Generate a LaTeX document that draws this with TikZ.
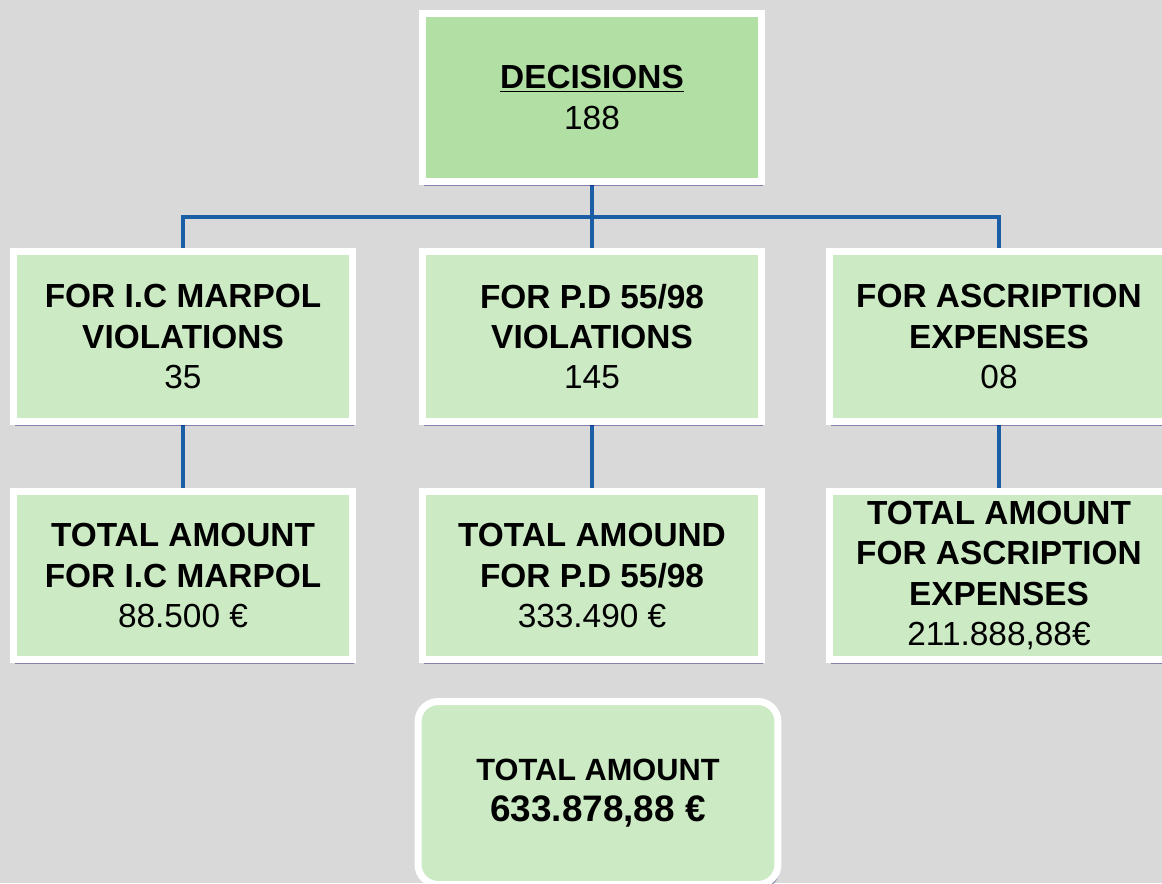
\documentclass[tikz,border=0pt]{standalone}
\usepackage{fontspec}
\setmainfont{Liberation Sans}
\usepackage{xcolor}
\usepackage{tikz}
\usetikzlibrary{shadows,backgrounds}

\definecolor{bggray}{RGB}{217,217,217}
\definecolor{topgreen}{RGB}{178,223,163}
\definecolor{boxgreen}{RGB}{204,234,196}
\definecolor{linkblue}{RGB}{27,94,166}

\begin{document}
\begin{tikzpicture}[x=0.02cm, y=-0.02cm,
  box/.style={rectangle, draw=white, line width=0.14cm, fill=boxgreen,
    minimum width=6.78cm, minimum height=3.4cm, inner sep=0pt, align=center,
    font=\fontsize{19}{23}\selectfont,
    drop shadow={shadow xshift=0.03cm, shadow yshift=-0.1cm, opacity=0.4, fill=black!60!blue}},
  link/.style={draw=linkblue, line width=0.08cm}]
\useasboundingbox (0,0) rectangle (1162,883);

% top
\node[box, fill=topgreen, minimum height=3.36cm] (dec) at (592,97.5) {\textbf{\underline{DECISIONS}}\\188};

% decisions per kind
\node[box] (icm) at (183,336.5) {\textbf{FOR I.C MARPOL}\\\textbf{VIOLATIONS}\\35};
\node[box] (pd) at (592,336.5) {\textbf{FOR P.D 55/98}\\\textbf{VIOLATIONS}\\145};
\node[box] (asc) at (999,336.5) {\textbf{FOR ASCRIPTION}\\\textbf{EXPENSES}\\08};

% amounts per kind
\node[box, minimum height=3.36cm] (ticm) at (183,575.5) {\textbf{TOTAL AMOUNT}\\\textbf{FOR I.C MARPOL}\\88.500 €};
\node[box, minimum height=3.36cm] (tpd) at (592,575.5) {\textbf{TOTAL AMOUND}\\\textbf{FOR P.D 55/98}\\333.490 €};
\node[box, minimum height=3.36cm] (tasc) at (999,575.5) {\textbf{TOTAL AMOUNT}\\\textbf{FOR ASCRIPTION}\\\textbf{EXPENSES}\\211.888,88€};

% grand total
\node[box, rounded corners=0.4cm, minimum width=7.2cm, minimum height=3.66cm,
  font=\fontsize{17.5}{23}\selectfont\bfseries] (total) at (598,793)
  {TOTAL AMOUNT\\{\fontsize{21}{23}\selectfont 633.878,88 €}};

\coordinate (split) at (592,217);

\begin{scope}[on background layer]
\fill[bggray] (0,0) rectangle (1162,883);
\draw[link] (dec) -- (pd);
\draw[link] (icm) |- (split) -| (asc);
\draw[link] (icm) -- (ticm);
\draw[link] (pd) -- (tpd);
\draw[link] (asc) -- (tasc);
\end{scope}
\end{tikzpicture}
\end{document}
